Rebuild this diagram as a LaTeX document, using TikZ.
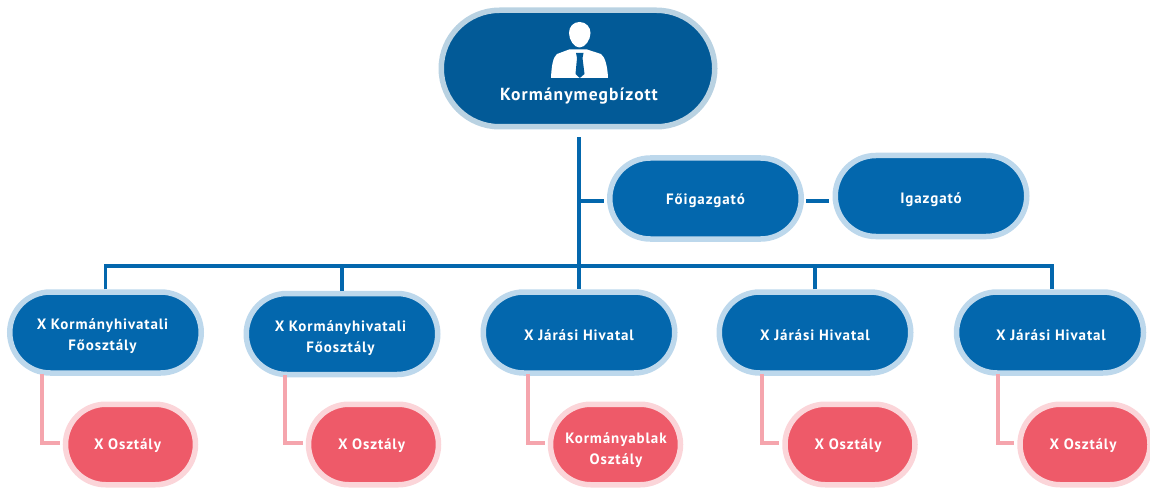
\documentclass[tikz,border=0pt]{standalone}
\usepackage{fontspec}
\setmainfont[LetterSpace=6,BoldFont={* Bold}]{PT Sans}
\usetikzlibrary{shapes.misc}
\definecolor{navy}{HTML}{025A97}
\definecolor{blue}{HTML}{0367AD}
\definecolor{ringb}{HTML}{BDD8EC}
\definecolor{ringt}{HTML}{B9D2E2}
\definecolor{redf}{HTML}{EE5A69}
\definecolor{ringr}{HTML}{FBD5D9}
\definecolor{pinkl}{HTML}{F5A5AD}
% text set off-centre in a pill: #1 x offset (doubled), #2 y offset downwards, #3 lines
\newcommand\ptext[3]{\raisebox{\dimexpr-4pt-#2\relax}[0pt][0pt]{\makebox[0pt]{\kern#1\begin{tabular}{@{}c@{}}#3\end{tabular}}}}
\tikzset{
  x=1pt,y=-1pt,
  pill/.style={rounded rectangle,line width=5.5pt,align=center,text=white,font=\fontsize{15}{21}\selectfont\bfseries,inner sep=0pt},
  toppill/.style={pill,draw=ringt,fill=navy,minimum width=273.5pt,minimum height=116.5pt},
  bluepill/.style={pill,draw=ringb,fill=blue,minimum width=191.5pt,minimum height=81pt},
  redpill/.style={pill,draw=ringr,fill=redf,minimum width=130pt,minimum height=80.5pt},
  blueline/.style={draw=blue,line width=3.4pt},
  pinkline/.style={draw=pinkl,line width=3.4pt},
  toplabel/.style={text=white,font=\fontsize{17.5}{20}\selectfont\bfseries,inner sep=0pt}
}
\begin{document}
\begin{tikzpicture}
\useasboundingbox (0,0) rectangle (1150,489);
\node[toppill] (top) at (578,68.5) {};
\node[toplabel] (toplab) at (579,96) {Kormánymegbízott};
% person icon
\fill[white] (551,78) .. controls (551.5,66) and (553,57) .. (557,54) -- (569,49.5) -- (587,49.5) -- (601,54) .. controls (605,57) and (607.5,66) .. (608,78) -- cycle;
\fill[white] (579.5,22) .. controls (586,22) and (590.5,27) .. (590.5,33) .. controls (590.5,40) and (585,47.5) .. (579.5,47.5) .. controls (574,47.5) and (569,40) .. (569,33) .. controls (569,27) and (573,22) .. (579.5,22) -- cycle;
\fill[navy] (576,53) -- (583.5,53) -- (582.5,58) -- (584.5,74) -- (579.8,78) -- (575.5,74) -- (577,58) -- cycle;
\node[bluepill] (fo) at (705.5,198.5) {\ptext{0pt}{1.5pt}{Főigazgató}};
\node[bluepill] (ig) at (931,196) {\ptext{0pt}{3pt}{Igazgató}};
\node[bluepill] (k1) at (105.5,332.5) {\ptext{-6pt}{3pt}{X Kormányhivatali\\Főosztály}};
\node[bluepill] (k2) at (342,334) {\ptext{-3pt}{3.5pt}{X Kormányhivatali\\Főosztály}};
\node[bluepill] (j1) at (579,332.5) {\ptext{0pt}{3pt}{X Járási Hivatal}};
\node[bluepill] (j2) at (815,332.5) {\ptext{0pt}{3pt}{X Járási Hivatal}};
\node[bluepill,minimum width=187pt] (j3) at (1050,332.5) {\ptext{2pt}{3pt}{X Járási Hivatal}};
\node[redpill] (o1) at (130.5,444.5) {\ptext{-6pt}{0pt}{X Osztály}};
\node[redpill] (o2) at (373.5,444.5) {\ptext{-4pt}{0pt}{X Osztály}};
\node[redpill] (o3) at (615.5,444.5) {\ptext{1pt}{5pt}{Kormányablak\\Osztály}};
\node[redpill] (o4) at (850,444.5) {\ptext{-4pt}{0pt}{X Osztály}};
\node[redpill] (o5) at (1085,444.5) {\ptext{-4pt}{0pt}{X Osztály}};
\coordinate (bus) at (579,266);
\coordinate (branch) at (579,201);
\coordinate (j3drop) at (1052,289);
\draw[blueline,shorten <=8pt] (j1.north |- top.south) -- (j1.north);
\draw[blueline] (k1.north) |- (bus) -| (j3drop);
\draw[blueline] (k2.north) -- (k2.north |- bus);
\draw[blueline] (j2.north) -- (j2.north |- bus);
\draw[blueline,shorten >=3pt] (branch) -- (branch -| fo.west);
\draw[blueline,shorten <=2pt,shorten >=4pt] (fo.east |- branch) -- (ig.west |- branch);
\foreach \k/\o/\s in {k1/o1/-63.5,k2/o2/-57,j1/o3/-51,j2/o4/-53,j3/o5/-52}{
  \draw[pinkline] ([xshift=\s pt,yshift=2pt]\k.south) |- ([xshift=-3pt,yshift=1.5pt]\o.west);
}
\end{tikzpicture}
\end{document}
